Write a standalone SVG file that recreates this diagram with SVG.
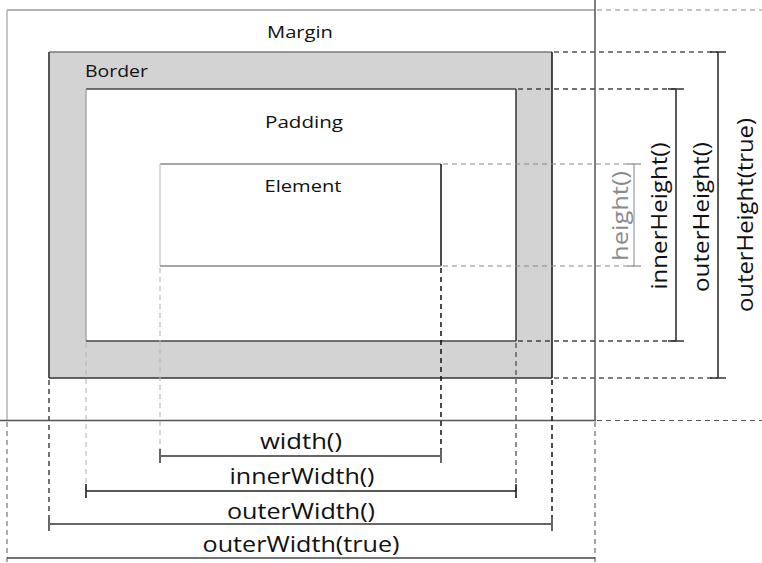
<svg xmlns="http://www.w3.org/2000/svg" width="762" height="563" viewBox="0 0 762 563">
<style>
text{font-family:"Open Sans","Noto Sans","DejaVu Sans",sans-serif;fill:#111}
.t{font-size:17px}
.d{font-size:21px}
.dash{fill:none;stroke-dasharray:5 4}
.dim{fill:none}
</style>
<rect width="762" height="563" fill="#fff"/>
<g id="margin">
  <line x1="7" y1="10" x2="595" y2="10" stroke="#9a9a9a" stroke-width="1.5"/>
  <line x1="7" y1="10" x2="7" y2="420" stroke="#b5b5b5" stroke-width="1.5"/>
  <line x1="595" y1="0" x2="595" y2="421" stroke="#555" stroke-width="1.5"/>
  <line x1="0" y1="420.5" x2="596" y2="420.5" stroke="#555" stroke-width="1.5"/>
  <text class="t" x="300" y="38" text-anchor="middle" textLength="66" lengthAdjust="spacingAndGlyphs">Margin</text>
</g>
<g id="border">
  <rect x="49" y="52" width="503" height="326" fill="#d3d3d3"/>
  <line x1="49" y1="52" x2="552" y2="52" stroke="#7a7a7a" stroke-width="1.5"/>
  <line x1="49" y1="52" x2="49" y2="378" stroke="#555" stroke-width="2"/>
  <line x1="552" y1="52" x2="552" y2="378" stroke="#111" stroke-width="1.5"/>
  <line x1="49" y1="378" x2="552" y2="378" stroke="#333" stroke-width="1.5"/>
  <text class="t" x="85" y="77" textLength="63" lengthAdjust="spacingAndGlyphs">Border</text>
</g>
<g id="padding">
  <rect x="86" y="89" width="430" height="252" fill="#fff"/>
  <line x1="86" y1="89" x2="516" y2="89" stroke="#444" stroke-width="1.5"/>
  <line x1="86" y1="89" x2="86" y2="341" stroke="#aaa" stroke-width="1.5"/>
  <line x1="516" y1="89" x2="516" y2="341" stroke="#333" stroke-width="1.5"/>
  <line x1="86" y1="341" x2="516" y2="341" stroke="#444" stroke-width="1.5"/>
  <text class="t" x="304" y="128" text-anchor="middle" textLength="78" lengthAdjust="spacingAndGlyphs">Padding</text>
</g>
<g id="element">
  <line x1="160" y1="164" x2="441" y2="164" stroke="#888" stroke-width="1.5"/>
  <line x1="160" y1="164" x2="160" y2="266" stroke="#ccc" stroke-width="1.5"/>
  <line x1="441" y1="164" x2="441" y2="266" stroke="#111" stroke-width="1.5"/>
  <line x1="160" y1="266" x2="441" y2="266" stroke="#888" stroke-width="1.5"/>
  <text class="t" x="303" y="192" text-anchor="middle" textLength="77" lengthAdjust="spacingAndGlyphs">Element</text>
</g>
<g id="connectors">
  <line class="dash" x1="443" y1="164" x2="634" y2="164" stroke="#888" stroke-width="1.2"/>
  <line class="dash" x1="443" y1="266" x2="634" y2="266" stroke="#888" stroke-width="1.2"/>
  <line class="dash" x1="518" y1="89" x2="676" y2="89" stroke="#444" stroke-width="1.5"/>
  <line class="dash" x1="518" y1="341" x2="676" y2="341" stroke="#444" stroke-width="1.5"/>
  <line class="dash" x1="554" y1="52" x2="718" y2="52" stroke="#555" stroke-width="1.5"/>
  <line class="dash" x1="554" y1="378" x2="718" y2="378" stroke="#555" stroke-width="1.5"/>
  <line class="dash" x1="597" y1="10" x2="762" y2="10" stroke="#888" stroke-width="1.2"/>
  <line class="dash" x1="597" y1="420.5" x2="762" y2="420.5" stroke="#555" stroke-width="1.2"/>
  <line class="dash" x1="160" y1="268" x2="160" y2="462" stroke="#bbb" stroke-width="1.2"/>
  <line class="dash" x1="441" y1="268" x2="441" y2="463" stroke="#111" stroke-width="1.5"/>
  <line class="dash" x1="86" y1="343" x2="86" y2="497" stroke="#bbb" stroke-width="1.2"/>
  <line class="dash" x1="516" y1="343" x2="516" y2="497" stroke="#444" stroke-width="1.2"/>
  <line class="dash" x1="49" y1="380" x2="49" y2="531" stroke="#444" stroke-width="1.5"/>
  <line class="dash" x1="552" y1="380" x2="552" y2="531" stroke="#111" stroke-width="1.5"/>
  <line class="dash" x1="7" y1="422" x2="7" y2="563" stroke="#777" stroke-width="1.2"/>
  <line class="dash" x1="595" y1="422" x2="595" y2="563" stroke="#666" stroke-width="1.2"/>
</g>
<g id="dim-height">
  <path class="dim" d="M627 164H641M634 164V266M627 266H641" stroke="#a0a0a0" stroke-width="1.3"/>
  <text class="d" x="-216" y="628" transform="rotate(-90)" text-anchor="middle" textLength="90" lengthAdjust="spacingAndGlyphs" style="fill:#8a8a8a">height()</text>
</g>
<g id="dim-innerHeight">
  <path class="dim" d="M668 89H684M676 89V341M668 341H684" stroke="#333" stroke-width="1.6"/>
  <text class="d" x="-216" y="667" transform="rotate(-90)" text-anchor="middle" textLength="147" lengthAdjust="spacingAndGlyphs">innerHeight()</text>
</g>
<g id="dim-outerHeight">
  <path class="dim" d="M710 52H726M718 52V378M710 378H726" stroke="#333" stroke-width="1.6"/>
  <text class="d" x="-217" y="709" transform="rotate(-90)" text-anchor="middle" textLength="150" lengthAdjust="spacingAndGlyphs">outerHeight()</text>
</g>
<g id="dim-outerHeightTrue">
  <text class="d" x="-215" y="753" transform="rotate(-90)" text-anchor="middle" textLength="194" lengthAdjust="spacingAndGlyphs">outerHeight(true)</text>
</g>
<g id="dim-width">
  <path class="dim" d="M160 449V463M160 456H441M441 449V463" stroke="#666" stroke-width="2"/>
  <text class="d" x="301" y="449" text-anchor="middle" textLength="82" lengthAdjust="spacingAndGlyphs">width()</text>
</g>
<g id="dim-innerWidth">
  <path class="dim" d="M86 484V498M86 491H516M516 484V498" stroke="#222" stroke-width="1.6"/>
  <text class="d" x="302" y="484" text-anchor="middle" textLength="145" lengthAdjust="spacingAndGlyphs">innerWidth()</text>
</g>
<g id="dim-outerWidth">
  <path class="dim" d="M49 517V531M49 524H552M552 517V531" stroke="#666" stroke-width="2"/>
  <text class="d" x="301" y="519" text-anchor="middle" textLength="148" lengthAdjust="spacingAndGlyphs">outerWidth()</text>
</g>
<g id="dim-outerWidthTrue">
  <path class="dim" d="M7 558H595" stroke="#444" stroke-width="1.6"/>
  <text class="d" x="301" y="552" text-anchor="middle" textLength="197" lengthAdjust="spacingAndGlyphs">outerWidth(true)</text>
</g>
</svg>
